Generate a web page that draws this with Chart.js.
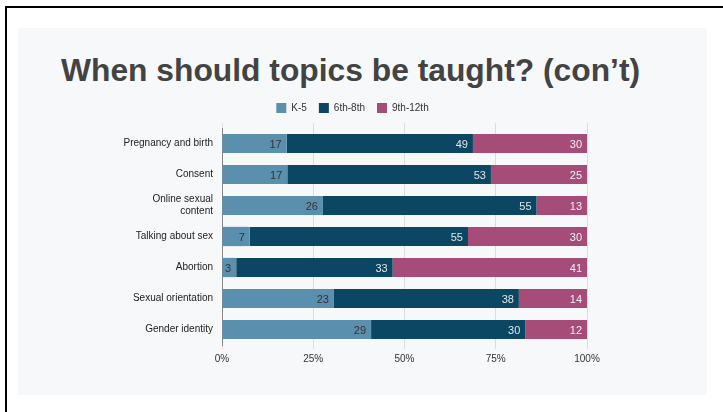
<!DOCTYPE html>
<html>
<head>
<meta charset="utf-8">
<script src="https://cdn.jsdelivr.net/npm/chart.js@4"></script>
<style>
  body { margin: 0; width: 723px; height: 412px; background: #fff; overflow: hidden; position: relative; font-family: "Liberation Sans", Arial, sans-serif; }
  .frame { position: absolute; left: 5px; top: 6px; width: 800px; height: 500px; border: 2px solid #000; }
  .panel { position: absolute; left: 18px; top: 28px; width: 689px; height: 367px; background: #f7f8fa; }
  .title { position: absolute; left: 61px; top: 52px; font-size: 32px; font-weight: bold; color: #434343; white-space: nowrap; transform-origin: left top; }
  .chartBox { position: absolute; left: 18px; top: 91px; width: 689px; height: 278px; }
</style>
</head>
<body>
<div class="frame"></div>
<div class="panel"></div>
<div class="title" id="title">When should topics be taught? (con’t)</div>
<div class="chartBox"><canvas id="chart"></canvas></div>
<script>
let topics = ['Pregnancy and birth', 'Consent', ['Online sexual', 'content'], 'Talking about sex', 'Abortion', 'Sexual orientation', 'Gender identity'];
let grades = ['K-5', '6th-8th', '9th-12th'];
let k5 = [17, 17, 26, 7, 3, 23, 29];
let middle = [49, 53, 55, 55, 33, 38, 30];
let high = [30, 25, 13, 30, 41, 14, 12];
let xTicks = ['0%', '25%', '50%', '75%', '100%'];

let colors = ['#5b8fae', '#0b4662', '#a54d78'];
let labelColors = ['#333333', '#e4e4e4', '#f0f0f0'];
let fontFamily = '"Liberation Sans", Arial, sans-serif';

// squeeze the title to the width it has on the slide
let title = document.getElementById('title');
title.style.transform = 'scaleX(' + (579 / title.offsetWidth) + ')';

let series = [k5, middle, high];
let totals = k5.map((v, i) => v + middle[i] + high[i]);
let datasets = series.map((values, s) => ({
    label: grades[s],
    data: values.map((v, i) => v / totals[i] * 100),
    raw: values,
    backgroundColor: colors[s],
    borderWidth: 0,
    barPercentage: 0.62,
    categoryPercentage: 1
}));

// draw the counts at the end of each segment
let segmentLabels = {
    id: 'segmentLabels',
    afterDatasetsDraw(chart) {
        let ctx = chart.ctx;
        ctx.save();
        ctx.font = '11px ' + fontFamily;
        ctx.textAlign = 'right';
        ctx.textBaseline = 'middle';
        chart.data.datasets.forEach((ds, s) => {
            chart.getDatasetMeta(s).data.forEach((bar, i) => {
                ctx.fillStyle = labelColors[s];
                ctx.fillText(ds.raw[i], bar.x - 5, bar.y + 1);
            });
        });
        ctx.restore();
    }
};

new Chart(document.getElementById('chart'), {
    type: 'bar',
    data: { labels: topics, datasets: datasets },
    plugins: [segmentLabels],
    options: {
        indexAxis: 'y',
        responsive: true,
        maintainAspectRatio: false,
        animation: false,
        layout: { padding: { left: 100, right: 120, top: 0, bottom: 0 } },
        plugins: {
            legend: {
                position: 'top',
                labels: {
                    boxWidth: 10,
                    boxHeight: 10,
                    padding: 12,
                    color: '#333',
                    font: { size: 10, family: fontFamily }
                }
            },
            tooltip: { enabled: false }
        },
        scales: {
            x: {
                stacked: true,
                min: 0,
                max: 100,
                ticks: {
                    stepSize: 25,
                    color: '#333',
                    padding: 4,
                    font: { size: 10, family: fontFamily },
                    callback: (v, i) => xTicks[i]
                },
                grid: { color: '#dcdcdc', tickLength: 4 },
                border: { display: false }
            },
            // only draws the short grid stubs above the bars
            xTop: {
                position: 'top',
                min: 0,
                max: 100,
                ticks: { display: false, stepSize: 25 },
                grid: { color: '#dcdcdc', drawOnChartArea: false, tickLength: 5 },
                border: { display: false },
                afterFit: s => { s.height = 5; }
            },
            y: {
                stacked: true,
                afterFit: s => { s.width = 104; },
                ticks: {
                    color: '#222',
                    padding: 9,
                    font: { size: 10, family: fontFamily }
                },
                grid: { display: false, drawTicks: false },
                border: { color: '#888', width: 1 }
            }
        }
    }
});
</script>
</body>
</html>
